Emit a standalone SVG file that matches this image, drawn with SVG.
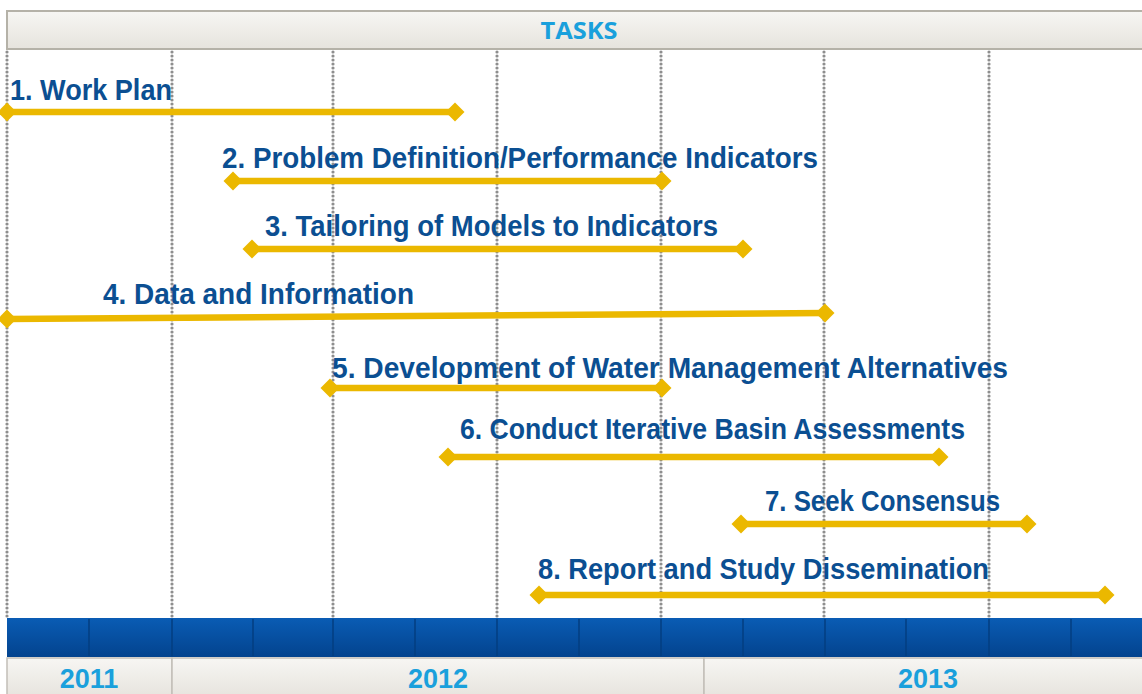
<svg xmlns="http://www.w3.org/2000/svg" width="1142" height="694" viewBox="0 0 1142 694">
<style>
.grid{stroke:#8e8e8e;stroke-width:3.2;stroke-dasharray:0 4;stroke-linecap:round;fill:none}
.bar{stroke:#ebb800;stroke-width:6.5;fill:none;marker-start:url(#dia);marker-end:url(#dia)}
.lbl{font-family:"Liberation Sans",Arial,sans-serif;font-weight:bold;font-size:30px;fill:#0b4f92}
.yr{font-family:"Liberation Sans",Arial,sans-serif;font-weight:bold;font-size:27px;fill:#1aa0dc;text-anchor:middle}
.sep{stroke:#033e80;stroke-width:1.5}
</style>
<defs>
<linearGradient id="hdr" x1="0" y1="0" x2="0" y2="1"><stop offset="0" stop-color="#f7f6f3"/><stop offset="1" stop-color="#e6e3dd"/></linearGradient>
<linearGradient id="blue" x1="0" y1="0" x2="0" y2="1"><stop offset="0" stop-color="#0a5cb4"/><stop offset="1" stop-color="#03438e"/></linearGradient>
<marker id="dia" viewBox="-10 -10 20 20" markerWidth="20" markerHeight="20" markerUnits="userSpaceOnUse" refX="0" refY="0" orient="auto"><path d="M-9.5 0 L0 -9.5 L9.5 0 L0 9.5Z" fill="#ebb800"/></marker>
</defs>
<g id="header">
<rect x="7" y="11" width="1140" height="38" fill="url(#hdr)" stroke="#b5b2a8" stroke-width="2"/>
<text x="579" y="39" font-family="'Open Sans','Liberation Sans',sans-serif" font-size="23" font-weight="bold" fill="#1aa0dc" text-anchor="middle" textLength="77" lengthAdjust="spacingAndGlyphs">TASKS</text>
</g>
<g id="grid">
<line class="grid" x1="7" y1="52" x2="7" y2="618"/>
<line class="grid" x1="172" y1="52" x2="172" y2="618"/>
<line class="grid" x1="333" y1="52" x2="333" y2="618"/>
<line class="grid" x1="497" y1="52" x2="497" y2="618"/>
<line class="grid" x1="661" y1="52" x2="661" y2="618"/>
<line class="grid" x1="824" y1="52" x2="824" y2="618"/>
<line class="grid" x1="989" y1="52" x2="989" y2="618"/>
</g>
<g id="timeline">
<rect x="7" y="618" width="1140" height="39" fill="url(#blue)"/>
<line class="sep" x1="89" y1="619" x2="89" y2="656"/>
<line class="sep" x1="172" y1="619" x2="172" y2="656"/>
<line class="sep" x1="253" y1="619" x2="253" y2="656"/>
<line class="sep" x1="333" y1="619" x2="333" y2="656"/>
<line class="sep" x1="415" y1="619" x2="415" y2="656"/>
<line class="sep" x1="497" y1="619" x2="497" y2="656"/>
<line class="sep" x1="579" y1="619" x2="579" y2="656"/>
<line class="sep" x1="661" y1="619" x2="661" y2="656"/>
<line class="sep" x1="743" y1="619" x2="743" y2="656"/>
<line class="sep" x1="825" y1="619" x2="825" y2="656"/>
<line class="sep" x1="906" y1="619" x2="906" y2="656"/>
<line class="sep" x1="989" y1="619" x2="989" y2="656"/>
<line class="sep" x1="1071" y1="619" x2="1071" y2="656"/>
</g>
<g id="years">
<rect x="7" y="658" width="165" height="40" fill="url(#hdr)" stroke="#c2bfb8" stroke-width="1.5"/>
<rect x="172" y="658" width="532" height="40" fill="url(#hdr)" stroke="#c2bfb8" stroke-width="1.5"/>
<rect x="704" y="658" width="442" height="40" fill="url(#hdr)" stroke="#c2bfb8" stroke-width="1.5"/>
<text class="yr" x="89" y="688">2011</text>
<text class="yr" x="438" y="688">2012</text>
<text class="yr" x="928" y="688">2013</text>
</g>
<g id="connectors">
<line class="bar" x1="7" y1="112" x2="455" y2="112"/>
<line class="bar" x1="233" y1="181" x2="662" y2="181"/>
<line class="bar" x1="252" y1="249" x2="743" y2="249"/>
<line class="bar" x1="7" y1="319" x2="825" y2="313"/>
<line class="bar" x1="330" y1="388" x2="662" y2="388"/>
<line class="bar" x1="448" y1="457" x2="939" y2="457"/>
<line class="bar" x1="741" y1="524" x2="1027" y2="524"/>
<line class="bar" x1="539" y1="595" x2="1105" y2="595"/>
</g>
<g id="task1"><text class="lbl" x="10" y="100" textLength="162" lengthAdjust="spacingAndGlyphs">1. Work Plan</text></g>
<g id="task2"><text class="lbl" x="222" y="168" textLength="596" lengthAdjust="spacingAndGlyphs">2. Problem Definition/Performance Indicators</text></g>
<g id="task3"><text class="lbl" x="265" y="236" textLength="453" lengthAdjust="spacingAndGlyphs">3. Tailoring of Models to Indicators</text></g>
<g id="task4"><text class="lbl" x="103" y="304" textLength="311" lengthAdjust="spacingAndGlyphs">4. Data and Information</text></g>
<g id="task5"><text class="lbl" x="332" y="378" textLength="676" lengthAdjust="spacingAndGlyphs">5. Development of Water Management Alternatives</text></g>
<g id="task6"><text class="lbl" x="460" y="439" textLength="505" lengthAdjust="spacingAndGlyphs">6. Conduct Iterative Basin Assessments</text></g>
<g id="task7"><text class="lbl" x="765" y="511" textLength="235" lengthAdjust="spacingAndGlyphs">7. Seek Consensus</text></g>
<g id="task8"><text class="lbl" x="538" y="579" textLength="451" lengthAdjust="spacingAndGlyphs">8. Report and Study Dissemination</text></g>
</svg>
